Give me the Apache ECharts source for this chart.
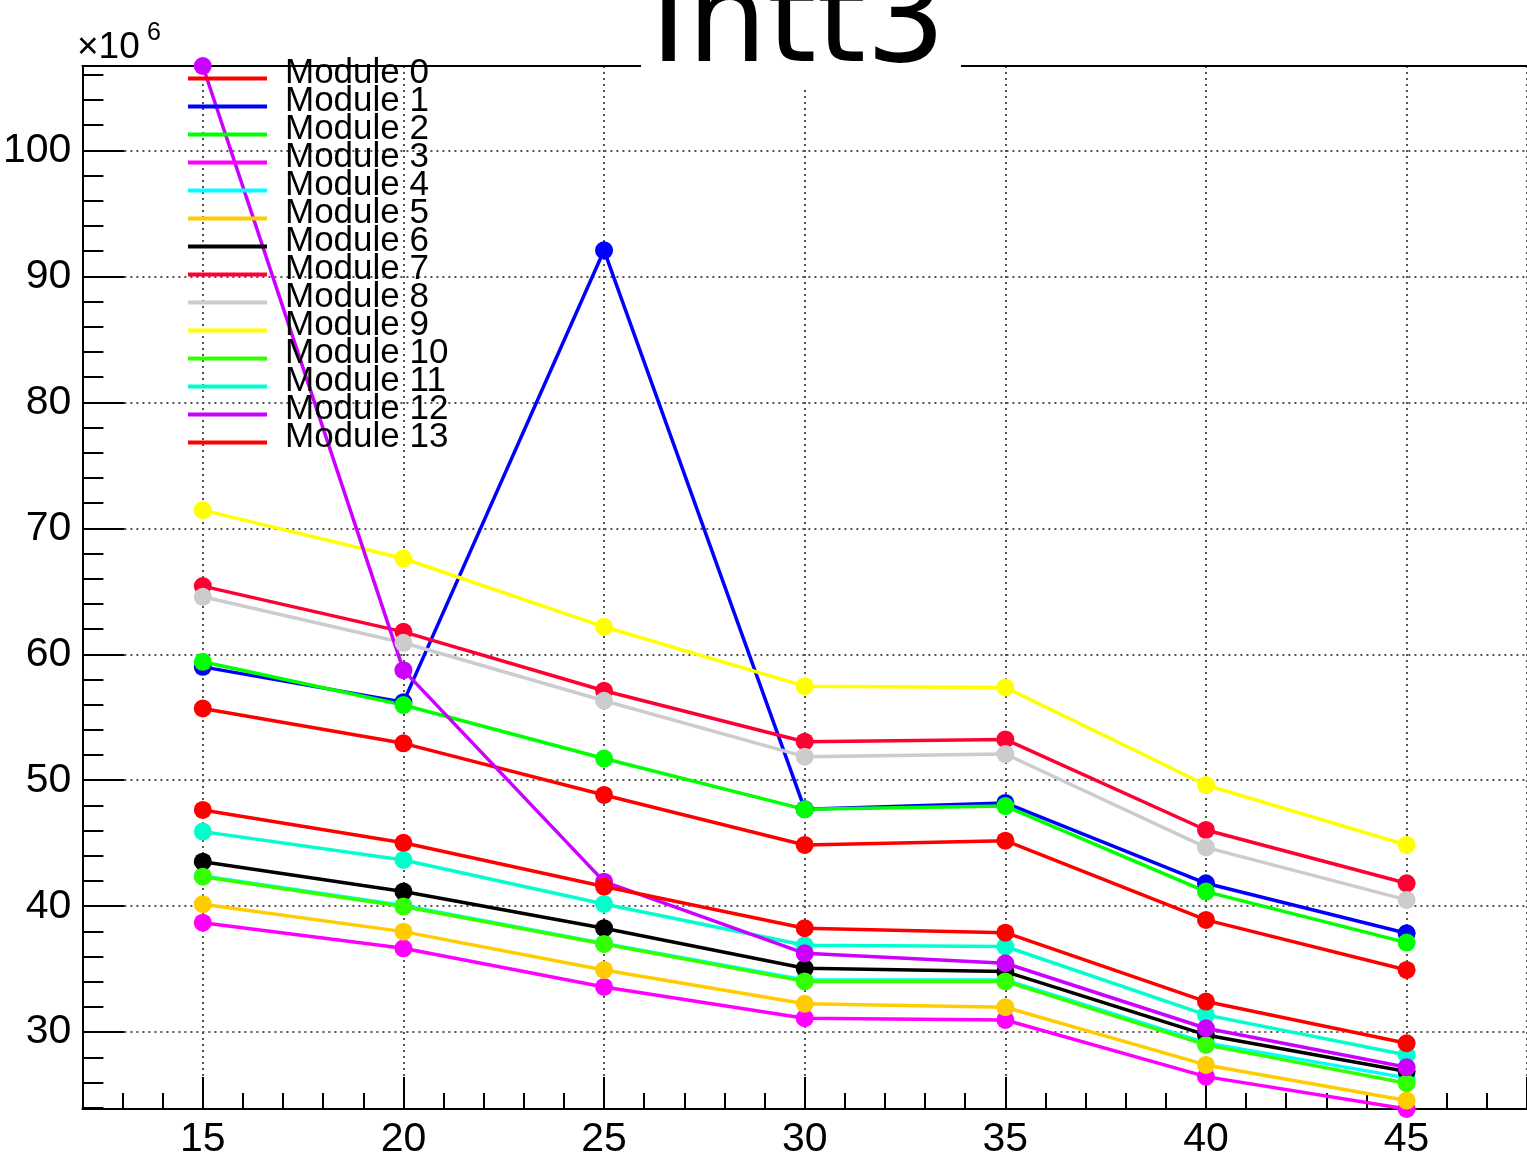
<!DOCTYPE html>
<html><head><meta charset="utf-8">
<script src="https://cdn.jsdelivr.net/npm/echarts@6/dist/echarts.min.js"></script>
<style>html,body{margin:0;padding:0;background:#fff}#c{width:1527px;height:1161px}</style>
</head><body><div id="c"></div>
<script>
// x values (common to all modules)
const xValues = [15, 20, 25, 30, 35, 40, 45];
// y values in units of 10^6
const module0  = [55.70, 52.93, 48.83, 44.86, 45.20, 38.91, 34.94];
const module1  = [59.00, 56.20, 92.07, 47.70, 48.20, 41.82, 37.85];
const module2  = [59.40, 55.97, 51.72, 47.69, 47.95, 41.16, 37.11];
const module3  = [38.69, 36.66, 33.59, 31.11, 30.97, 26.47, 23.90];
const module4  = [42.40, 40.05, 37.05, 34.15, 34.15, 29.15, 26.37];
const module5  = [40.16, 37.98, 34.94, 32.25, 31.98, 27.40, 24.57];
const module6  = [43.53, 41.16, 38.25, 35.07, 34.81, 29.78, 26.87];
const module7  = [65.41, 61.78, 57.10, 53.06, 53.24, 46.05, 41.82];
const module8  = [64.56, 60.91, 56.31, 51.87, 52.08, 44.67, 40.50];
const module9  = [71.44, 67.60, 62.18, 57.47, 57.37, 49.62, 44.86];
const module10 = [42.34, 39.97, 37.00, 34.03, 34.03, 28.99, 25.95];
const module11 = [45.92, 43.67, 40.18, 36.90, 36.80, 31.37, 28.19];
const module12 = [106.70, 58.74, 41.95, 36.26, 35.47, 30.31, 27.21];
const module13 = [47.64, 45.03, 41.56, 38.25, 37.90, 32.43, 29.12];
const moduleNames = ['Module 0','Module 1','Module 2','Module 3','Module 4','Module 5','Module 6',
  'Module 7','Module 8','Module 9','Module 10','Module 11','Module 12','Module 13'];
const modules = [module0, module1, module2, module3, module4, module5, module6,
  module7, module8, module9, module10, module11, module12, module13];
const colors = ['#ff0000','#0000ff','#00ff00','#ff00ff','#00ffff','#ffcc00','#000000',
  '#ff0033','#cccccc','#ffff00','#33ff00','#00ffcc','#cc00ff','#ff0000'];
const titleText = 'Intt3';
const yExponent = '×10';
const yExponentPow = '6';

const chart = echarts.init(document.getElementById('c'), null, {renderer: 'canvas'});
const axisFont = {color: '#000', fontSize: 41, fontFamily: 'Liberation Sans'};
const gridLine = {show: true, lineStyle: {color: '#555', type: [2, 4], width: 2}};
const option = {
  animation: false,
  backgroundColor: '#fff',
  grid: {left: 80, right: -7, top: 66, bottom: 52},
  xAxis: [{
    type: 'value', min: 12, max: 48, minInterval: 5, maxInterval: 5, splitNumber: 7,
    axisLine: {show: true, onZero: false, lineStyle: {color: '#000', width: 2}},
    axisTick: {show: true, inside: true, length: 32, lineStyle: {color: '#000', width: 2}},
    minorTick: {show: true, splitNumber: 5, length: 16, lineStyle: {color: '#000', width: 2}},
    axisLabel: Object.assign({margin: 10, showMinLabel: false, showMaxLabel: false}, axisFont),
    splitLine: gridLine
  }, {
    type: 'value', position: 'top', min: 12, max: 48,
    axisLine: {show: true, onZero: false, lineStyle: {color: '#000', width: 2}},
    axisTick: {show: false}, axisLabel: {show: false}, splitLine: {show: false}
  }],
  yAxis: {
    type: 'value', min: 23.9, max: 106.7, minInterval: 10, maxInterval: 10, splitNumber: 8,
    axisLine: {show: true, onZero: false, lineStyle: {color: '#000', width: 2}},
    axisTick: {show: true, inside: true, length: 42, lineStyle: {color: '#000', width: 2}},
    minorTick: {show: true, splitNumber: 5, length: 21, lineStyle: {color: '#000', width: 2}},
    axisLabel: Object.assign({margin: 11, showMinLabel: false, showMaxLabel: false}, axisFont),
    splitLine: gridLine
  },
  legend: {
    orient: 'vertical', left: 188, top: 56, padding: 0, itemGap: -17,
    itemWidth: 79, itemHeight: 4, icon: 'rect', selectedMode: false,
    formatter: '{t|{name}}',
    textStyle: {
      fontFamily: 'Liberation Sans', fontSize: 35, color: '#000',
      rich: {t: {fontFamily: 'Liberation Sans', fontSize: 35, color: '#000', lineHeight: 28, padding: [0, 0, 10, 13]}}
    },
    data: moduleNames
  },
  graphic: [
    {type: 'rect', z: 100, shape: {x: 641, y: 0, width: 320, height: 88}, style: {fill: '#fff'}},
    {type: 'text', z: 101, x: 798, y: 28, style: {text: titleText, fontFamily: 'DejaVu Sans', fontSize: 126, fill: '#000', align: 'center', verticalAlign: 'middle'}},
    {type: 'text', z: 101, x: 77, y: 48, style: {text: yExponent, fontFamily: 'Liberation Sans', fontSize: 37, fill: '#000', align: 'left', verticalAlign: 'middle'}},
    {type: 'text', z: 101, x: 147, y: 33, style: {text: yExponentPow, fontFamily: 'Liberation Sans', fontSize: 25, fill: '#000', align: 'left', verticalAlign: 'middle'}}
  ],
  series: modules.map((d, i) => ({
    name: moduleNames[i], type: 'line', clip: false,
    data: xValues.map((x, j) => [x, d[j]]),
    symbol: 'circle', symbolSize: 18, showSymbol: true,
    lineStyle: {width: 3.5, color: colors[i]},
    itemStyle: {color: colors[i]},
    emphasis: {disabled: true}
  }))
};
chart.setOption(option);
</script></body></html>
